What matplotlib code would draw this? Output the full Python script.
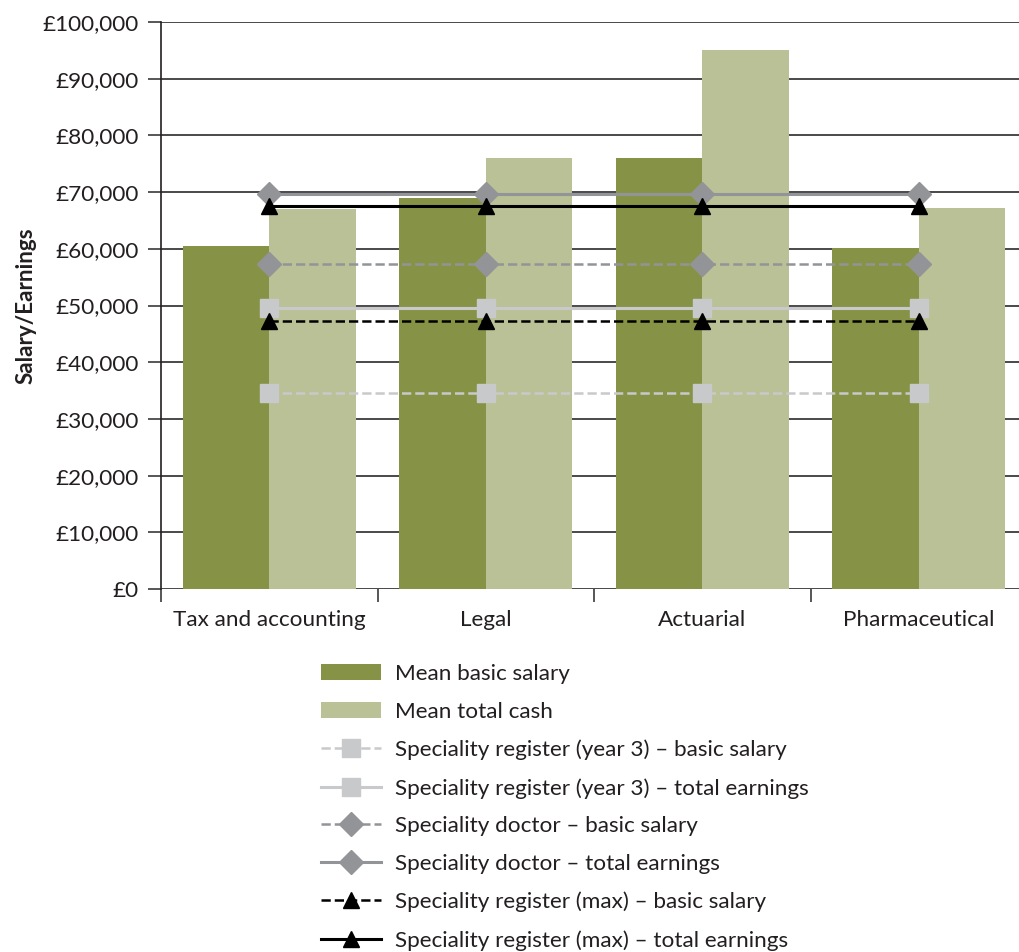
import matplotlib
matplotlib.use("Agg")
import matplotlib.pyplot as plt
from matplotlib.ticker import FuncFormatter, FixedLocator

plt.rcParams['font.family'] = ['Lato', 'DejaVu Sans']

# data
categories = ["Tax and accounting", "Legal", "Actuarial", "Pharmaceutical"]
mean_basic = [60500, 69000, 76000, 60100]
mean_total = [67000, 76000, 95100, 67200]

reg3_basic = [34600, 34600, 34600, 34600]
reg3_total = [49500, 49500, 49500, 49500]
doc_basic = [57300, 57300, 57300, 57300]
doc_total = [69600, 69600, 69600, 69600]
regmax_basic = [47300, 47300, 47300, 47300]
regmax_total = [67600, 67600, 67600, 67600]

# colours
DARK_OLIVE = '#869346'
LIGHT_OLIVE = '#bac196'
SQ_GREY = '#c8c9cb'
DIA_GREY = '#939497'
TEXT = '#231f20'

FONTSIZE = 16.2

fig = plt.figure(figsize=(10.19, 9.52), dpi=100)
ax = fig.add_axes([161 / 1019, (952 - 589) / 952, (1027 - 161) / 1019, (589 - 22) / 952])

x = list(range(len(categories)))
bar_w = 0.4
bars1 = ax.bar([i - bar_w / 2 for i in x], mean_basic, width=bar_w, color=DARK_OLIVE,
               label="Mean basic salary", zorder=2)
bars2 = ax.bar([i + bar_w / 2 for i in x], mean_total, width=bar_w, color=LIGHT_OLIVE,
               label="Mean total cash", zorder=2)

lines = []
lines += ax.plot(x, reg3_basic, '--', color=SQ_GREY, lw=1.8, marker='s', markersize=13,
                 label="Speciality register (year 3) \u2013 basic salary", zorder=3)
lines += ax.plot(x, reg3_total, '-', color=SQ_GREY, lw=2.2, marker='s', markersize=13,
                 label="Speciality register (year 3) \u2013 total earnings", zorder=3)
lines += ax.plot(x, doc_basic, '--', color=DIA_GREY, lw=1.8, marker='D', markersize=12,
                 label="Speciality doctor \u2013 basic salary", zorder=3)
lines += ax.plot(x, doc_total, '-', color=DIA_GREY, lw=2.2, marker='D', markersize=12,
                 label="Speciality doctor \u2013 total earnings", zorder=3)
lines += ax.plot(x, regmax_basic, '--', color='black', lw=1.8, marker='^', markersize=11,
                 label="Speciality register (max) \u2013 basic salary", zorder=4)
lines += ax.plot(x, regmax_total, '-', color='black', lw=2.2, marker='^', markersize=11,
                 label="Speciality register (max) \u2013 total earnings", zorder=4)

ax.set_xlim(-0.5, 3.5)
ax.set_ylim(0, 100000)
ax.set_axisbelow(True)
ax.set_yticks(range(0, 100001, 10000))
ax.yaxis.set_major_formatter(FuncFormatter(lambda v, p: f"\u00a3{int(v):,}"))
ax.yaxis.grid(True, color='#3a3a3a', lw=1.3)
ax.tick_params(axis='y', length=9.5, width=1.2, color='#3a3a3a', labelsize=FONTSIZE,
               pad=6.5, labelcolor=TEXT)

ax.set_xticks(x)
ax.set_xticklabels(categories)
ax.tick_params(axis='x', which='major', length=0, labelsize=FONTSIZE, pad=15,
               labelcolor=TEXT)
ax.xaxis.set_minor_locator(FixedLocator([-0.5, 0.5, 1.5, 2.5]))
ax.tick_params(axis='x', which='minor', length=9, width=1.2, color='#3a3a3a')

for side in ['top', 'right', 'bottom']:
    ax.spines[side].set_visible(False)
ax.spines['left'].set_color(TEXT)
ax.spines['left'].set_linewidth(1.2)

ax.set_ylabel("Salary/Earnings", fontsize=FONTSIZE, fontweight='bold',
              color=TEXT, labelpad=4)

handles = [bars1, bars2] + lines
labels = [h.get_label() for h in handles]
fig.legend(handles, labels, loc='upper left', bbox_to_anchor=(321 / 1019, 1 - 664 / 952),
           frameon=False, fontsize=FONTSIZE, handlelength=2.67, handletextpad=0.62,
           labelspacing=0.79, handleheight=0.72, borderaxespad=0, borderpad=0,
           labelcolor=TEXT)

fig.savefig("out.png", dpi=100)
